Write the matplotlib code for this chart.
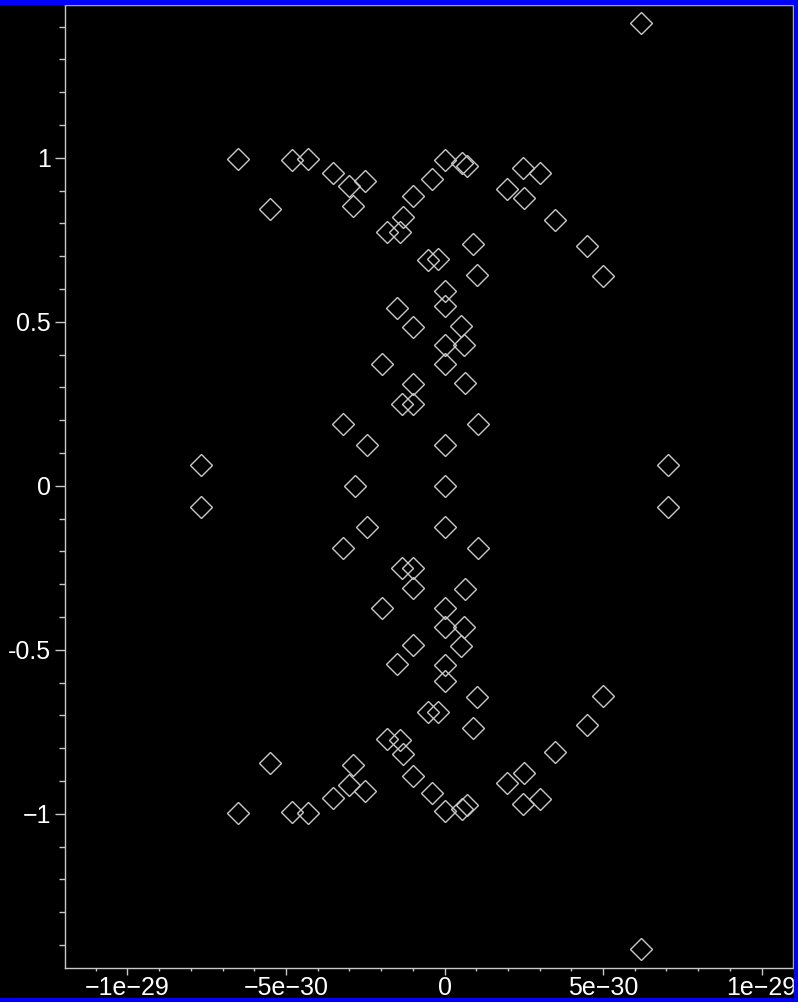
import matplotlib
matplotlib.use("Agg")
import matplotlib.pyplot as plt
from matplotlib.patches import Rectangle
from matplotlib.ticker import FixedLocator, FixedFormatter, MultipleLocator

RE_UPPER = [6.19, -6.50, -4.80, -4.30, -3.51, -3.00, -2.51, -2.88, -5.50, -0.98,
            -0.40, 0.00, 0.54, 0.70, -1.30, -1.80, -1.40, -0.51, -0.20, 0.00,
            -1.51, 2.49, 3.01, 1.98, 2.51, 3.49, 4.49, 4.99, 0.91, 1.02,
            0.00, -1.00, 0.00, 0.00, -1.98, -0.98, -1.35, -0.98, -3.19, -2.45,
            0.00, -7.69, 0.51, 0.62, 0.65, 1.07, 7.06]
IM_UPPER = [1.412, 0.996, 0.994, 0.996, 0.953, 0.913, 0.930, 0.852, 0.845, 0.884,
            0.936, 0.992, 0.984, 0.974, 0.819, 0.773, 0.775, 0.689, 0.691, 0.595,
            0.542, 0.969, 0.955, 0.905, 0.877, 0.811, 0.730, 0.641, 0.737, 0.643,
            0.547, 0.484, 0.430, 0.372, 0.372, 0.311, 0.250, 0.250, 0.189, 0.125,
            0.125, 0.063, 0.488, 0.430, 0.313, 0.189, 0.063]
RE_AXIS = [-2.82, 0.00]
IM_AXIS = [0.0, 0.0]
RE_LOWER = [6.19, -6.50, -4.80, -4.30, -3.51, -3.00, -2.51, -2.88, -5.50, -0.98,
            -0.40, 0.00, 0.54, 0.70, -1.30, -1.80, -1.40, -0.51, -0.20, 0.00,
            -1.51, 2.49, 3.01, 1.98, 2.51, 3.49, 4.49, 4.99, 0.91, 1.02,
            0.00, -1.00, 0.00, 0.00, -1.98, -0.98, -1.35, -0.98, -3.19, -2.45,
            0.00, -7.69, 0.51, 0.62, 0.65, 1.07, 7.06]
IM_LOWER = [-1.412, -0.996, -0.994, -0.996, -0.953, -0.913, -0.930, -0.852, -0.845, -0.884,
            -0.936, -0.992, -0.984, -0.974, -0.819, -0.773, -0.775, -0.689, -0.691, -0.595,
            -0.542, -0.969, -0.955, -0.905, -0.877, -0.811, -0.730, -0.641, -0.737, -0.643,
            -0.547, -0.484, -0.430, -0.372, -0.372, -0.311, -0.250, -0.250, -0.189, -0.125,
            -0.125, -0.063, -0.488, -0.430, -0.313, -0.189, -0.063]

X_TICKS  = [-10, -5, 0, 5, 10]
X_LABELS = ["\u22121e\u221229", "\u22125e\u221230", "0", "5e\u221230", "1e\u221229"]
Y_TICKS  = [-1, -0.5, 0, 0.5, 1]
Y_LABELS = ["\u22121", "-0.5", "0", "0.5", "1"]

plt.rcParams["font.family"] = ["Liberation Sans", "DejaVu Sans"]

W, H = 798, 1002
fig = plt.figure(figsize=(W/100, H/100), dpi=100, facecolor="black")
ax = fig.add_axes([65/W, 34/H, 728/W, 963/H], facecolor="black")

mk = dict(ls="none", marker="D", ms=11, mfc="none", mec="#c8c8c8", mew=1.0)
ax.plot(RE_UPPER, IM_UPPER, **mk)
ax.plot(RE_AXIS, IM_AXIS, **mk)
ax.plot(RE_LOWER, IM_LOWER, **mk)

ax.set_xlim(-11.97, 10.99)
ax.set_ylim(-1.470, 1.466)

ax.xaxis.set_major_locator(FixedLocator(X_TICKS))
ax.xaxis.set_major_formatter(FixedFormatter(X_LABELS))
ax.xaxis.set_minor_locator(MultipleLocator(1))
ax.yaxis.set_major_locator(FixedLocator(Y_TICKS))
ax.yaxis.set_major_formatter(FixedFormatter(Y_LABELS))
ax.yaxis.set_minor_locator(MultipleLocator(0.1))

for s in ax.spines.values():
    s.set_color("#c8c8c8"); s.set_linewidth(1.0)
ax.tick_params(axis="x", which="major", length=5, width=1, color="#c8c8c8",
               labelcolor="white", labelsize=18, pad=0.5)
ax.tick_params(axis="x", which="minor", length=2.5, width=1, color="#c8c8c8")
ax.tick_params(axis="y", which="major", length=7, width=1, color="#c8c8c8",
               labelcolor="white", labelsize=18, pad=3)
ax.tick_params(axis="y", which="minor", length=4.3, width=1, color="#c8c8c8")

# blue window frame
blue = "#0000ff"
fig.patches.append(Rectangle((0, 1-4/H), 1, 4/H, transform=fig.transFigure, color=blue, zorder=5))
fig.patches.append(Rectangle((0, 0), 1, 4/H, transform=fig.transFigure, color=blue, zorder=5))
fig.patches.append(Rectangle((1-4/W, 0), 4/W, 1, transform=fig.transFigure, color=blue, zorder=5))

fig.savefig("out.png", dpi=100, facecolor="black")
